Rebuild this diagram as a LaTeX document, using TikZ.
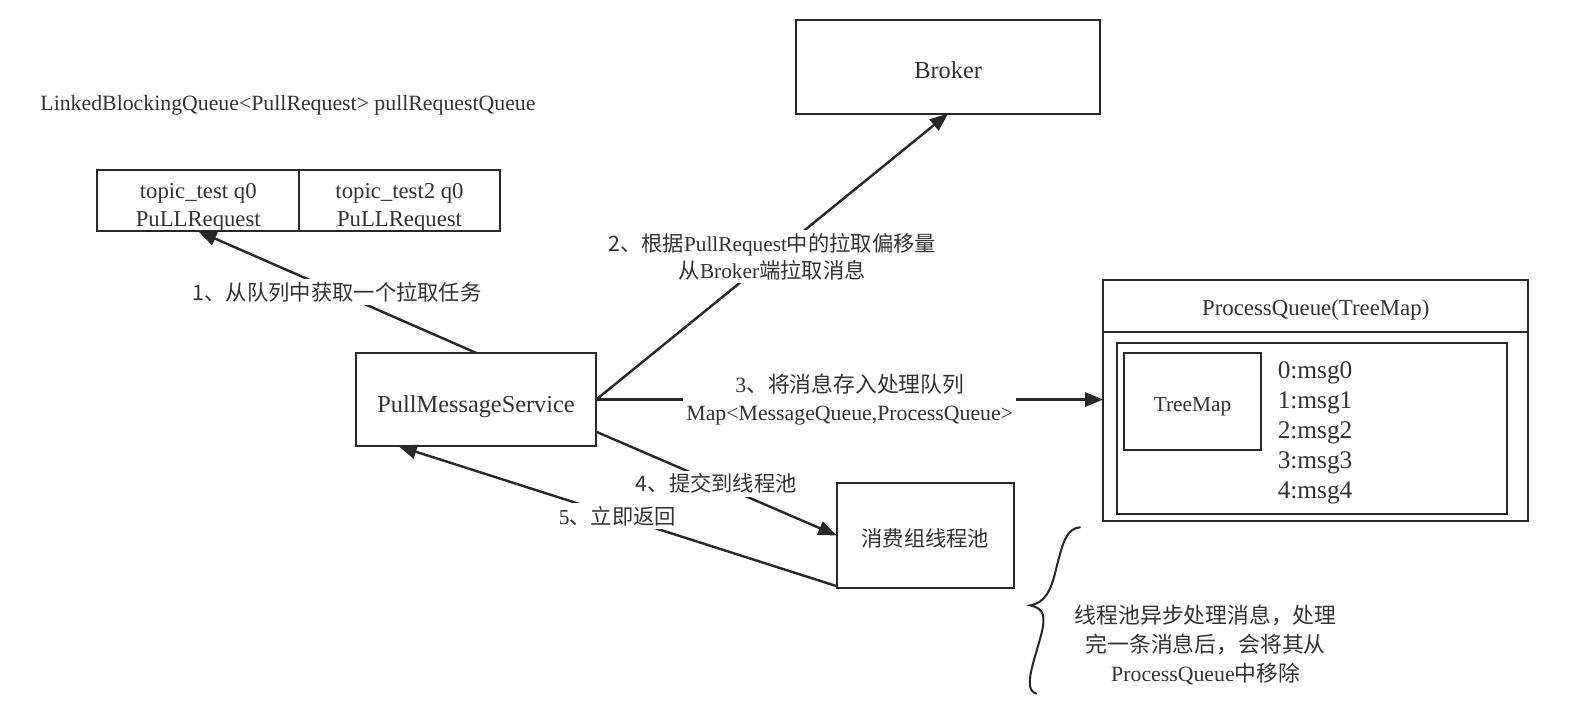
\documentclass[tikz,border=0pt]{standalone}
\usepackage{fontspec}
\setmainfont{Liberation Serif}
\newfontfamily\cjk{Noto Sans CJK SC}
\usetikzlibrary{arrows.meta,positioning,calc}
\definecolor{pmline}{RGB}{40,40,40}
\definecolor{pmtext}{RGB}{51,51,51}
\newcommand{\zh}[1]{{\cjk #1}}
\newcommand{\dn}[2]{\raisebox{-#1}[\height][\depth]{#2}}

\begin{document}
\begin{tikzpicture}[x=0.5pt,y=-0.5pt,
    box/.style={rectangle, draw=pmline, line width=1pt, text=pmtext, inner sep=0pt, outer sep=0pt},
    flow/.style={draw=pmline, line width=1.2pt, -{Triangle[length=9pt,width=7pt]}},
    lbl/.style={fill=white, text=pmtext, inner sep=1.5pt, align=center, font=\fontsize{10.5}{13.5}\selectfont}]

    \useasboundingbox (0,0) rectangle (1568,698);

    % Pull request queue
    \node[text=pmtext, font=\fontsize{10.75}{13}\selectfont] (qtitle) at (284,104) {LinkedBlockingQueue<PullRequest> pullRequestQueue};
    \node[box, minimum width=99.5pt, minimum height=30pt, font=\fontsize{11.2}{14}\selectfont] (reqa) at (195.5,198) {\dn{3pt}{\begin{tabular}{@{}c@{}}topic\_test q0\\PuLLRequest\end{tabular}}};
    \node[box, minimum width=99pt, minimum height=30pt, font=\fontsize{11.2}{14}\selectfont, right=0pt of reqa] (reqb) {\dn{3pt}{\begin{tabular}{@{}c@{}}topic\_test2 q0\\PuLLRequest\end{tabular}}};

    % Services
    \node[box, minimum width=150pt, minimum height=46pt, font=\fontsize{12}{14}\selectfont] (broker) at (935,66) {\dn{1.75pt}{Broker}};
    \node[box, minimum width=118.5pt, minimum height=46pt, font=\fontsize{12}{14}\selectfont] (pms) at (469.5,394) {\dn{3.5pt}{PullMessageService}};
    \node[box, minimum width=87.5pt, minimum height=52pt, font=\fontsize{10.5}{13}\selectfont] (pool) at (912.5,528) {\dn{1.5pt}{\zh{消费组线程池}}};

    % Process queue
    \node[box, minimum width=209.5pt, minimum height=118.5pt] (pq) at (1297.5,395) {};
    \draw[pmline, line width=1pt] ($(pq.north west)+(0,51)$) -- ($(pq.north east)+(0,51)$);
    \node[text=pmtext, font=\fontsize{11.25}{13}\selectfont] (pqtitle) at (1297.5,306) {ProcessQueue(TreeMap)};
    \node[box, minimum width=192pt, minimum height=84.5pt] (pqin) at (1294,422.5) {};
    \node[box, minimum width=68pt, minimum height=48pt, font=\fontsize{10.5}{13}\selectfont] (tmap) at (1176,396) {\dn{2.5pt}{TreeMap}};
    \node[text=pmtext, align=left, anchor=west, font=\fontsize{12.5}{14.75}\selectfont] (msgs) at (1253,427) {0:msg0\\1:msg1\\2:msg2\\3:msg3\\4:msg4};

    % Steps
    \draw[flow] (pms.north) -- node[lbl] {\zh{1、从队列中获取一个拉取任务}} (reqa.south);
    \draw[flow] (pms.east) -- node[lbl] {\zh{2、根据}PullRequest\zh{中的拉取偏移量}\\\zh{从}Broker\zh{端拉取消息}} (broker.south);
    \draw[flow] (pms.east) -- node[lbl, font=\fontsize{10.75}{13.5}\selectfont] {3\zh{、将消息存入处理队列}\\Map<MessageQueue,ProcessQueue>} (pms.east -| pq.west);
    \draw[flow] (pms.-15) -- node[lbl] {\zh{4、提交到线程池}} (pool.west);
    \draw[flow] ([yshift=1pt]pool.south west) -- node[lbl] {5\zh{、立即返回}} ([xshift=21pt]pms.south west);

    % Note
    \coordinate (btop) at (1065,520);
    \coordinate (btip) at (1016,597);
    \coordinate (bbot) at (1022,684);
    \draw[pmline, line width=1pt, line cap=round] (btop) .. controls (1052,521) and (1048,535) .. (1042,559)
        .. controls (1036,585) and (1030,594) .. (btip)
        .. controls (1030,600) and (1031,608) .. (1027,625)
        .. controls (1020,652) and (1008,680) .. (bbot);
    \node[text=pmtext, align=center, font=\fontsize{10.75}{14.25}\selectfont] (note) at (1189,636) {\zh{线程池异步处理消息，处理}\\\zh{完一条消息后，会将其从}\\ProcessQueue\zh{中移除}};
\end{tikzpicture}
\end{document}
